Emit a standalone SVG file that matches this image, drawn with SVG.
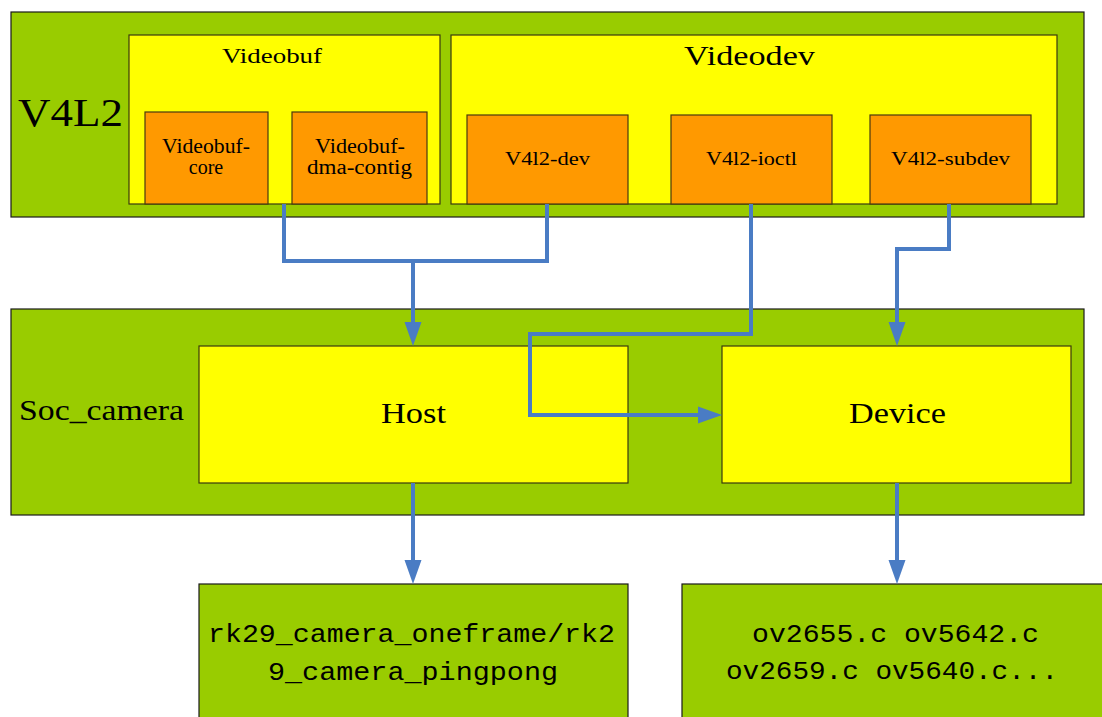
<svg xmlns="http://www.w3.org/2000/svg" width="1102" height="717" viewBox="0 0 1102 717">
<style>
.g{fill:#99cc00;stroke:#1a1a1a;stroke-width:1.2}
.y{fill:#ffff00;stroke:#3a3a10;stroke-width:1.2}
.o{fill:#ff9900;stroke:#4a3a10;stroke-width:1.2}
.t{font-family:"Liberation Serif","Times New Roman",serif;fill:#000}
.m{font-family:"Liberation Mono","Courier New",monospace;fill:#000;font-size:25px}
.c{fill:none;stroke:#4a7cc4;stroke-width:4;stroke-linejoin:miter}
</style>
<defs>
<marker id="ah" markerUnits="userSpaceOnUse" markerWidth="26" markerHeight="20" refX="0" refY="0" viewBox="0 -10 26 20" orient="auto" overflow="visible">
<path d="M0,-8.5 L24,0 L0,8.5 z" fill="#4a7cc4"/>
</marker>
</defs>
<rect width="1102" height="717" fill="#fff"/>
<g id="v4l2">
<rect class="g" x="11" y="12" width="1073" height="205"/>
<text class="t" x="18" y="126" font-size="40" textLength="105" lengthAdjust="spacingAndGlyphs">V4L2</text>
</g>
<g id="videobuf">
<rect class="y" x="129" y="35" width="311" height="169"/>
<text class="t" x="222" y="63" font-size="21" textLength="100" lengthAdjust="spacingAndGlyphs">Videobuf</text>
</g>
<g id="videobuf-core">
<rect class="o" x="145" y="112" width="123" height="92"/>
<text class="t" x="162" y="153" font-size="20" textLength="88" lengthAdjust="spacingAndGlyphs">Videobuf-</text>
<text class="t" x="206" y="174" font-size="20" text-anchor="middle">core</text>
</g>
<g id="videobuf-dma">
<rect class="o" x="292" y="112" width="135" height="92"/>
<text class="t" x="315" y="153" font-size="20" textLength="90" lengthAdjust="spacingAndGlyphs">Videobuf-</text>
<text class="t" x="307" y="174" font-size="20" textLength="105" lengthAdjust="spacingAndGlyphs">dma-contig</text>
</g>
<g id="videodev">
<rect class="y" x="451" y="35" width="606" height="169"/>
<text class="t" x="684" y="65" font-size="27" textLength="131" lengthAdjust="spacingAndGlyphs">Videodev</text>
</g>
<g id="v4l2-dev">
<rect class="o" x="467" y="115" width="161" height="89"/>
<text class="t" x="505" y="165" font-size="19" textLength="85" lengthAdjust="spacingAndGlyphs">V4l2-dev</text>
</g>
<g id="v4l2-ioctl">
<rect class="o" x="671" y="115" width="161" height="89"/>
<text class="t" x="706" y="165" font-size="19" textLength="91" lengthAdjust="spacingAndGlyphs">V4l2-ioctl</text>
</g>
<g id="v4l2-subdev">
<rect class="o" x="870" y="115" width="161" height="89"/>
<text class="t" x="891" y="165" font-size="19" textLength="119" lengthAdjust="spacingAndGlyphs">V4l2-subdev</text>
</g>
<g id="soc_camera">
<rect class="g" x="11" y="309" width="1073" height="206"/>
<text class="t" x="19" y="420" font-size="29" textLength="165" lengthAdjust="spacingAndGlyphs">Soc_camera</text>
</g>
<g id="host">
<rect class="y" x="199" y="346" width="429" height="137"/>
<text class="t" x="381" y="423" font-size="29" textLength="65" lengthAdjust="spacingAndGlyphs">Host</text>
</g>
<g id="device">
<rect class="y" x="722" y="346" width="349" height="137"/>
<text class="t" x="849" y="423" font-size="29" textLength="97" lengthAdjust="spacingAndGlyphs">Device</text>
</g>
<g id="rk29">
<rect class="g" x="199" y="584" width="429" height="140"/>
<text class="m" x="208" y="642" textLength="407" lengthAdjust="spacingAndGlyphs">rk29_camera_oneframe/rk2</text>
<text class="m" x="268" y="680" textLength="290" lengthAdjust="spacingAndGlyphs">9_camera_pingpong</text>
</g>
<g id="ov">
<rect class="g" x="682" y="584" width="430" height="140"/>
<text class="m" x="752" y="642" textLength="287" lengthAdjust="spacingAndGlyphs">ov2655.c ov5642.c</text>
<text class="m" x="726" y="679" textLength="332" lengthAdjust="spacingAndGlyphs">ov2659.c ov5640.c...</text>
</g>
<g id="connectors">
<path class="c" d="M284,204 V261 H547 V204"/>
<path class="c" d="M413,261 V322" marker-end="url(#ah)"/>
<path class="c" d="M751,204 V334 H530 V415 H698" marker-end="url(#ah)"/>
<path class="c" d="M949,204 V249 H897 V322" marker-end="url(#ah)"/>
<path class="c" d="M413,483 V560" marker-end="url(#ah)"/>
<path class="c" d="M897,483 V560" marker-end="url(#ah)"/>
</g>
</svg>
